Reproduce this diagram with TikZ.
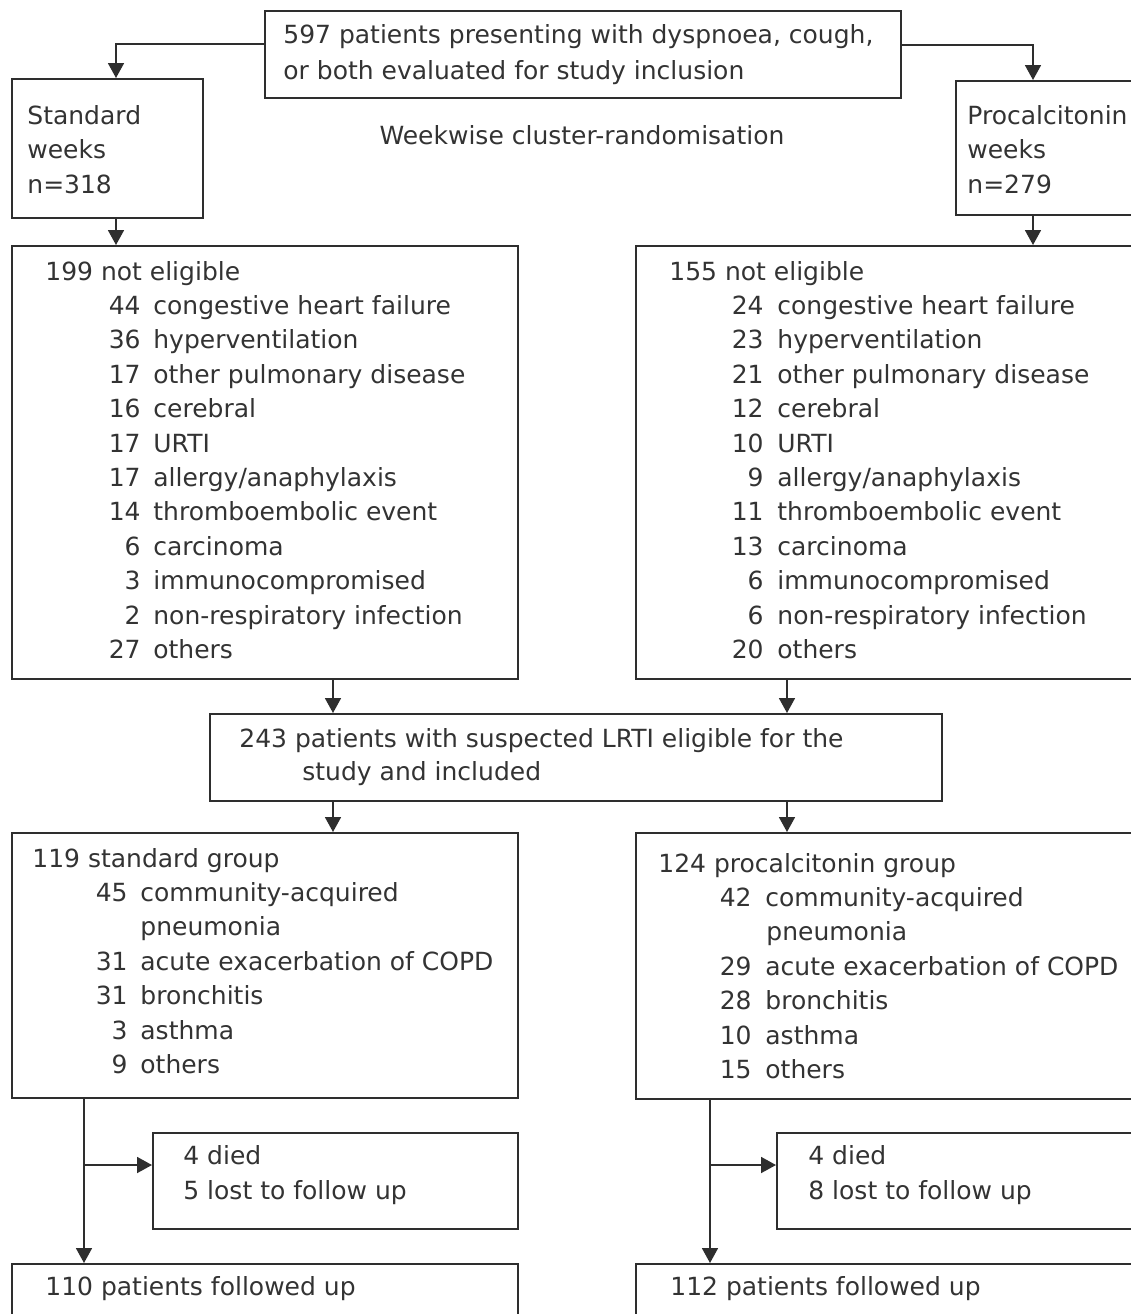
\documentclass[tikz,border=0pt]{standalone}
\usepackage{fontspec}
\setmainfont{DejaVu Sans}
\usetikzlibrary{arrows.meta}
\definecolor{txt}{HTML}{333333}
\definecolor{ln}{HTML}{2E2E2E}
\newcommand{\fs}{\fontsize{12.5pt}{15pt}\selectfont}
\newcommand{\itm}[6]{\node[tr] (#1a) at (#2,#4) {#5}; \node[tl] (#1b) at (#3,#4) {#6};}
\tikzset{
  box/.style={draw=ln, line width=0.9pt, fill=white, inner sep=0pt, anchor=north west},
  tl/.style={anchor=base west, inner sep=0pt, font=\fs, text=txt},
  tr/.style={anchor=base east, inner sep=0pt, font=\fs, text=txt},
  arr/.style={draw=ln, line width=0.9pt, -{Triangle[length=7.5pt,width=8pt]}},
  ln/.style={draw=ln, line width=0.9pt}
}
\begin{document}
\begin{tikzpicture}[x=0.5pt,y=-0.5pt]
\useasboundingbox (0,0) rectangle (1131,1314);
\clip (0,0) rectangle (1131,1314);
% boxes
\node[box, minimum width=318pt, minimum height=43.5pt] (top) at (264,10) {};
\node[box, minimum width=95.5pt, minimum height=69.5pt] (std) at (11,78) {};
\node[box, minimum width=102.5pt, minimum height=67pt] (pct) at (955,80) {};
\node[box, minimum width=253pt, minimum height=216.5pt] (nel1) at (11,245) {};
\node[box, minimum width=262.5pt, minimum height=216.5pt] (nel2) at (635,245) {};
\node[box, minimum width=366pt, minimum height=43.5pt] (mid) at (209,713) {};
\node[box, minimum width=253pt, minimum height=132.5pt] (grp1) at (11,832) {};
\node[box, minimum width=262.5pt, minimum height=133pt] (grp2) at (635,832) {};
\node[box, minimum width=182.5pt, minimum height=48pt] (lost1) at (152,1132) {};
\node[box, minimum width=192pt, minimum height=48pt] (lost2) at (776,1132) {};
\node[box, minimum width=253pt, minimum height=38.5pt] (fu1) at (11,1263) {};
\node[box, minimum width=262.5pt, minimum height=38.5pt] (fu2) at (635,1263) {};
% guide coordinates
\coordinate (xa) at (116,0);
\coordinate (xb) at (1033,0);
\coordinate (xc) at (333,0);
\coordinate (xd) at (787,0);
\coordinate (xe) at (84,0);
\coordinate (xf) at (710,0);
\coordinate (ya) at (0,44);
\coordinate (yb) at (0,45);
\coordinate (jl) at (84,1165);
\coordinate (jr) at (710,1165);
% connectors
\draw[arr] (top.west |- ya) -| (std.north -| xa);
\draw[arr] (top.east |- yb) -| (pct.north -| xb);
\draw[arr] (std.south -| xa) -- (nel1.north -| xa);
\draw[arr] (pct.south -| xb) -- (nel2.north -| xb);
\draw[arr] (nel1.south -| xc) -- (mid.north -| xc);
\draw[arr] (nel2.south -| xd) -- (mid.north -| xd);
\draw[arr] (mid.south -| xc) -- (grp1.north -| xc);
\draw[arr] (mid.south -| xd) -- (grp2.north -| xd);
\draw[arr] (grp1.south -| xe) -- (fu1.north -| xe);
\draw[arr] (grp2.south -| xf) -- (fu2.north -| xf);
\draw[arr] (jl) -- (lost1.west |- jl);
\draw[arr] (jr) -- (lost2.west |- jr);
% texts
\node[tl] (t1) at (283,43) {597 patients presenting with dyspnoea, cough,};
\node[tl] (t2) at (283,79) {or both evaluated for study inclusion};
\node[anchor=base, inner sep=0pt, font=\fs, text=txt] (wk) at (582,144) {Weekwise cluster-randomisation};
\node[tl] (s1) at (27,124) {Standard};
\node[tl] (s2) at (27,158) {weeks};
\node[tl] (s3) at (27,193) {n=318};
\node[tl] (p1) at (967,124) {Procalcitonin};
\node[tl] (p2) at (967,158) {weeks};
\node[tl] (p3) at (967,193) {n=279};
% not eligible left
\node[tl] (lhead) at (45,280) {199 not eligible};
\itm{la}{141}{153}{314.4}{44}{congestive heart failure}
\itm{lb}{141}{153}{348.8}{36}{hyperventilation}
\itm{lc}{141}{153}{383.2}{17}{other pulmonary disease}
\itm{ld}{141}{153}{417.6}{16}{cerebral}
\itm{le}{141}{153}{452.0}{17}{URTI}
\itm{lf}{141}{153}{486.4}{17}{allergy/anaphylaxis}
\itm{lg}{141}{153}{520.8}{14}{thromboembolic event}
\itm{lh}{141}{153}{555.2}{6}{carcinoma}
\itm{li}{141}{153}{589.6}{3}{immunocompromised}
\itm{lj}{141}{153}{624.0}{2}{non-respiratory infection}
\itm{lk}{141}{153}{658.4}{27}{others}
% not eligible right
\node[tl] (rhead) at (669,280) {155 not eligible};
\itm{ra}{764}{777}{314.4}{24}{congestive heart failure}
\itm{rb}{764}{777}{348.8}{23}{hyperventilation}
\itm{rc}{764}{777}{383.2}{21}{other pulmonary disease}
\itm{rd}{764}{777}{417.6}{12}{cerebral}
\itm{re}{764}{777}{452.0}{10}{URTI}
\itm{rf}{764}{777}{486.4}{9}{allergy/anaphylaxis}
\itm{rg}{764}{777}{520.8}{11}{thromboembolic event}
\itm{rh}{764}{777}{555.2}{13}{carcinoma}
\itm{ri}{764}{777}{589.6}{6}{immunocompromised}
\itm{rj}{764}{777}{624.0}{6}{non-respiratory infection}
\itm{rk}{764}{777}{658.4}{20}{others}
% middle
\node[tl] (m1) at (239,747) {243 patients with suspected LRTI eligible for the};
\node[tl] (m2) at (302,780) {study and included};
% standard group
\node[tl] (ghead) at (32,867) {119 standard group};
\itm{ga}{128}{140}{901.4}{45}{community-acquired}
\node[tl] (gp) at (140,935.8) {pneumonia};
\itm{gb}{128}{140}{970.2}{31}{acute exacerbation of COPD}
\itm{gc}{128}{140}{1004.6}{31}{bronchitis}
\itm{gd}{128}{140}{1039.0}{3}{asthma}
\itm{ge}{128}{140}{1073.4}{9}{others}
% procalcitonin group
\node[tl] (hhead) at (658,872) {124 procalcitonin group};
\itm{ha}{752}{765}{906.4}{42}{community-acquired}
\node[tl] (hp) at (766,940.8) {pneumonia};
\itm{hb}{752}{765}{975.2}{29}{acute exacerbation of COPD}
\itm{hc}{752}{765}{1009.6}{28}{bronchitis}
\itm{hd}{752}{765}{1044.0}{10}{asthma}
\itm{he}{752}{765}{1078.4}{15}{others}
% lost
\node[tl] (d1) at (183,1164) {4 died};
\node[tl] (d2) at (183,1199) {5 lost to follow up};
\node[tl] (e1) at (808,1164) {4 died};
\node[tl] (e2) at (808,1199) {8 lost to follow up};
% followed up
\node[tl] (f1) at (45,1295) {110 patients followed up};
\node[tl] (f2) at (670,1295) {112 patients followed up};
\end{tikzpicture}
\end{document}
